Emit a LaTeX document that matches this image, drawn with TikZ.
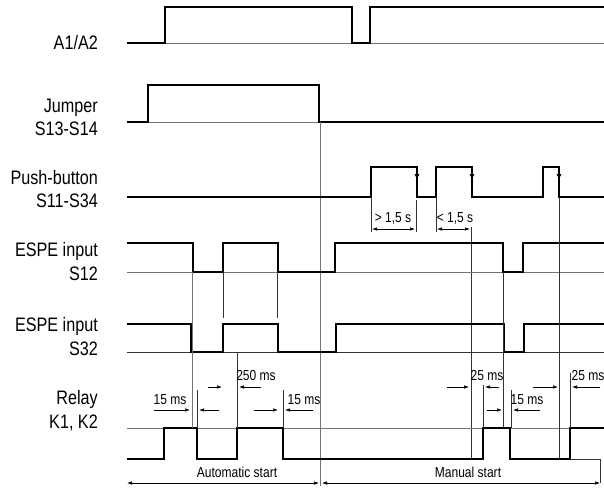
\documentclass[tikz,border=0pt]{standalone}
\usepackage{fontspec}
\setmainfont{Liberation Sans}[FakeStretch=0.83]
\usepackage{tikz}
\usetikzlibrary{arrows.meta}

\begin{document}
\begin{tikzpicture}[
    x=1pt, y=-1pt,
    >={Latex[length=5pt, width=3.5pt]},
    lbl/.style={anchor=east, align=right, inner sep=0pt,
                font=\fontsize{19.5}{23.5}\selectfont},
    note/.style={inner sep=0pt, font=\fontsize{14.5}{16}\selectfont},
    sig/.style={line width=1.8pt, line join=miter},
    base/.style={line width=0.7pt, black!55},
    guide/.style={line width=0.6pt, black!80},
    dim/.style={->, line width=0.6pt},
    press/.style={-{Latex[length=6pt, width=5pt]}, line width=0.6pt},
]
\useasboundingbox (0,0) rectangle (604,488);

\node[lbl] (a1a2)   at (98, 43)    {A1/A2};
\node[lbl] (jumper) at (98, 117.5) {Jumper\\S13-S14};
\node[lbl] (push)   at (98, 189)   {Push-button\\S11-S34};
\node[lbl] (espe1)  at (98, 261.5) {ESPE input\\S12};
\node[lbl] (espe2)  at (98, 336.5) {ESPE input\\S32};
\node[lbl] (relay)  at (98, 410.5) {Relay\\K1, K2};

\draw[base] (165,43) -- (604,43);
\draw[sig] (127,43) -- (165,43) -- (165,7) -- (352,7) -- (352,43) -- (370,43) -- (370,7) -- (604,7);

\draw[base] (148,122) -- (319,122);
\draw[sig] (127,122) -- (148,122) -- (148,85) -- (319,85) -- (319,122) -- (604,122);
\draw[base] (320,122) -- (320,486);

\draw[sig] (127,197) -- (371,197) -- (371,167) -- (417,167) -- (417,197) -- (436,197) -- (436,167)
    -- (472,167) -- (472,197) -- (543,197) -- (543,167) -- (559,167) -- (559,197) -- (604,197);
\draw[press] (417,167) -- (417,180);
\draw[press] (472,167) -- (472,180);
\draw[press] (559,167) -- (559,180);

\draw[guide] (371,197) -- (371,232);
\draw[guide] (416,200) -- (416,232);
\draw[guide] (436,197) -- (436,232);
\draw[guide] (471,227) -- (471,459);
\draw[<->, line width=0.6pt] (372,229) -- (415,229);
\draw[<->, line width=0.6pt] (437,229) -- (470,229);
\node[note] (long)  at (393,218) {> 1,5 s};
\node[note] (short) at (455,218) {< 1,5 s};

\draw[base] (127,272) -- (604,272);
\draw[sig] (127,243) -- (193,243) -- (193,272) -- (223,272) -- (223,243) -- (278,243) -- (278,272)
    -- (335,272) -- (335,243) -- (503,243) -- (503,272) -- (523,272) -- (523,243) -- (604,243);

\draw[guide] (127,352) -- (604,352);
\draw[sig] (127,324) -- (191,324) -- (191,352) -- (223,352) -- (223,324) -- (278,324) -- (278,352)
    -- (336,352) -- (336,324) -- (504,324) -- (504,352) -- (524,352) -- (524,324) -- (604,324);

\draw[base] (127,428) -- (604,428);
\draw[sig] (127,459) -- (164,459) -- (164,428) -- (197,428) -- (197,459) -- (237,459) -- (237,428)
    -- (283,428) -- (283,459) -- (483,459) -- (483,428) -- (510,428) -- (510,459) -- (570,459)
    -- (570,428) -- (604,428);
\draw[guide] (570,459) -- (600,459) -- (600,483);

\draw[base] (192,272) -- (192,428);
\draw[guide] (223,272) -- (223,318);
\draw[guide] (277,272) -- (277,318);
\draw[guide] (237,352) -- (237,428);
\draw[guide] (197,390) -- (197,428);
\draw[guide] (283,390) -- (283,428);
\draw[guide] (503,272) -- (503,428);
\draw[guide] (483,385) -- (483,428);
\draw[guide] (511,390) -- (511,428);
\draw[guide] (559,197) -- (559,459);
\draw[guide] (570,373) -- (570,428);

\node[note] (t15a)  at (170,400) {15 ms};
\draw[dim] (154,410) -- (190,410);
\draw[dim] (219,410) -- (199,410);
\node[note] (t250)  at (256,375) {250 ms};
\draw[dim] (208,387) -- (222,387);
\draw[dim] (261,387) -- (239,387);
\node[note] (t15b)  at (304,400) {15 ms};
\draw[dim] (254,410) -- (278,410);
\draw[dim] (313,410) -- (285,410);

\node[note] (t25a)  at (487,375) {25 ms};
\draw[dim] (447,387) -- (469,387);
\draw[dim] (499,387) -- (485,387);
\node[note] (t15c)  at (527,400) {15 ms};
\draw[dim] (487,410) -- (502,410);
\draw[dim] (540,410) -- (513,410);
\node[note] (t25b)  at (588,375) {25 ms};
\draw[dim] (533,387) -- (558,387);
\draw[dim] (600,387) -- (572,387);

\node[note] (auto)   at (237,472) {Automatic start};
\node[note] (manual) at (468,472) {Manual start};
\draw[<->, line width=0.6pt] (127,483) -- (319,483);
\draw[<->, line width=0.6pt] (322,483) -- (600,483);
\end{tikzpicture}
\end{document}
